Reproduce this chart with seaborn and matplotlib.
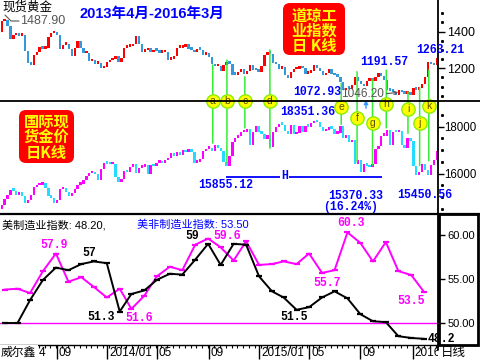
import numpy as np
import pandas as pd
import matplotlib
matplotlib.use("Agg")
import matplotlib.pyplot as plt
import matplotlib.dates as mdates
import matplotlib.transforms as mtransforms
from matplotlib.patches import FancyBboxPatch, Rectangle, ConnectionPatch, FancyArrowPatch
from matplotlib.lines import Line2D
import seaborn as sns

# ---------------- data ----------------
week_first = "2013-04-17"  # mid-week of the first weekly candle

gold_close = [
    # 2013
    1405, 1462,
    1470, 1435, 1365, 1386, 1393,
    1383, 1387, 1297, 1234,
    1223, 1278, 1294, 1322,
    1310, 1313, 1375, 1395, 1396,
    1387, 1308, 1333, 1337,
    1310, 1272, 1315, 1352,
    1315, 1287, 1287, 1244, 1251,
    1230, 1235, 1204, 1213,
    # 2014
    1237, 1248, 1254, 1270, 1240,
    1263, 1318, 1323, 1326,
    1339, 1381, 1335, 1294,
    1303, 1318, 1293, 1302,
    1301, 1289, 1293, 1293, 1250,
    1253, 1274, 1316, 1316,
    1320, 1337, 1310, 1306,
    1293, 1310, 1305, 1280, 1287,
    1268, 1230, 1216, 1218,
    1192, 1222, 1238, 1231, 1171,
    1169, 1185, 1201, 1175,
    1191, 1222, 1196, 1195,
    # 2015
    1186, 1216, 1277, 1293, 1283,
    1234, 1228, 1203, 1213,
    1167, 1152, 1184, 1199,
    1202, 1207, 1204, 1175,
    1179, 1189, 1225, 1205, 1190,
    1168, 1179, 1201, 1173,
    1168, 1159, 1131, 1085, 1095,
    1094, 1113, 1160, 1134,
    1121, 1107, 1137, 1145,
    1137, 1156, 1177, 1162, 1142,
    1088, 1081, 1076, 1057,
    1085, 1075, 1065, 1076,
    # 2016
    1061, 1098, 1089, 1097, 1117,
    1158, 1239, 1227, 1222,
    1260,
]

dow_close = [
    # 2013
    14547, 14712,
    14973, 15118, 15354, 15303, 15115,
    15248, 15070, 14799, 14909,
    15135, 15464, 15543, 15558,
    15658, 15425, 15081, 15010, 14810,
    14922, 15376, 15451, 15258,
    15072, 15237, 15399, 15570,
    15615, 15761, 15961, 16064, 16086,
    16020, 15755, 16221, 16479,
    # 2014
    16470, 16437, 16458, 15879, 15699,
    15794, 16154, 16103, 16322,
    16453, 16065, 16302, 16323,
    16412, 16027, 16409, 16361,
    16513, 16583, 16491, 16606, 16717,
    16924, 16776, 16947, 16851,
    17068, 16944, 17100, 16961,
    16493, 16554, 16663, 17001, 17098,
    17138, 16988, 17280, 17113,
    17010, 16544, 16380, 16805, 17391,
    17574, 17634, 17810, 17828,
    17959, 17281, 17805, 18053,
    # 2015
    17833, 17737, 17512, 17673, 17165,
    17825, 18019, 18140, 18133,
    17857, 17749, 18128, 17713,
    17763, 18058, 17827, 18080,
    18024, 18191, 18273, 18232, 18011,
    17849, 17899, 18016, 17947,
    17731, 17760, 18086, 17569, 17690,
    17373, 17477, 16460, 16643,
    16102, 16433, 16385, 16315,
    16472, 17084, 17216, 17646, 17664,
    17910, 17245, 17824, 17798,
    17848, 17265, 17128, 17553,
    # 2016
    17425, 16347, 15988, 16094, 16466,
    16205, 15974, 16392, 16640,
    17007,
]

pmi_months = [
    "2013-05", "2013-06", "2013-07", "2013-08", "2013-09", "2013-10", "2013-11", "2013-12",
    "2014-01", "2014-02", "2014-03", "2014-04", "2014-05", "2014-06", "2014-07", "2014-08",
    "2014-09", "2014-10", "2014-11", "2014-12", "2015-01", "2015-02", "2015-03", "2015-04",
    "2015-05", "2015-06", "2015-07", "2015-08", "2015-09", "2015-10", "2015-11", "2015-12",
    "2016-01", "2016-02",
]
ism_mfg = [50.0, 50.0, 52.6, 54.9, 56.3, 56.0, 56.7, 57.0, 56.8, 51.3, 53.3, 53.7,
           54.9, 55.6, 55.5, 57.2, 59.0, 56.6, 59.0, 58.9, 55.3, 53.6, 52.9, 51.5,
           51.8, 52.9, 53.6, 52.8, 51.0, 50.2, 50.1, 48.5, 48.3, 48.2]
ism_nonmfg = [53.8, 53.9, 53.4, 55.9, 57.9, 54.7, 55.2, 54.1, 52.9, 53.9, 51.6, 53.1,
              55.3, 56.4, 56.0, 58.9, 59.6, 58.6, 57.1, 59.3, 56.6, 56.7, 57.0, 56.7,
              57.9, 55.7, 56.0, 60.3, 59.1, 57.0, 59.2, 55.9, 55.45, 53.5]

tick_dates = ["2013-09-03", "2014-01-02", "2014-05-01", "2014-09-02",
              "2015-01-02", "2015-05-01", "2015-09-01", "2016-01-04"]
tick_labels = ["09", "2014/01", "05", "09", "2015/01", "05", "09", "2016"]

gold_ticks = [1200, 1400]
dow_ticks = [16000, 18000]
pmi_ticks = [50, 55, 60]

event_letters = list("abcdefghijk")
event_dates = ["2014-09-12", "2014-10-16", "2014-11-28", "2015-01-27", "2015-07-17",
               "2015-08-24", "2015-09-30", "2015-11-02", "2015-12-24", "2016-01-21",
               "2016-02-12"]
event_gold = [1218, 1245, 1154, 1300, 1118, 1181, 1136, 1190, 1072, 1095, 1190]
event_dow = [17306, 16455, 17950, 17080, 18100, 16500, 16370, 17950, 17720, 16350, 16550]

support_level = 15855.12
support_span = ["2014-10-14", "2015-10-22"]

# ---------------- style ----------------
sns.set_theme(style="white")
plt.rcParams["font.family"] = ["Liberation Sans", "Noto Sans CJK SC", "DejaVu Sans"]
plt.rcParams["axes.unicode_minus"] = False
MONO = ["Liberation Mono", "DejaVu Sans Mono"]
BLUE = "#0000FF"
MAG = "#FF00FF"

W, H = 480, 360
fig = plt.figure(figsize=(4.8, 3.6), dpi=100)
fig.patch.set_facecolor("white")


def fx(x):
    return x / W


def fy(y):
    return 1 - y / H


ax_g = fig.add_axes([0, fy(214), fx(438), 214 / H])
ax_d = ax_g.twinx()
ax_p = fig.add_axes([0, fy(345), fx(438), (345 - 214) / H], sharex=ax_g)
for ax in (ax_g, ax_d, ax_p):
    ax.set_facecolor("none")
    ax.grid(False)
    for s in ax.spines.values():
        s.set_visible(False)

xmin, xmax = pd.Timestamp("2013-04-20"), pd.Timestamp("2016-03-05")

# ---------------- candles ----------------
wdates = pd.date_range(week_first, periods=len(gold_close), freq="7D")
g = np.array(gold_close, float)
gp = np.r_[g[0], g[:-1]]
ax_g.bar(wdates, np.maximum(np.abs(g - gp), 14), bottom=np.minimum(g, gp) - 5, width=5.6,
         color=np.where(g >= gp, "#FF0000", "#3399DD"), linewidth=0, zorder=2)

d = np.array(dow_close, float)
dp = np.r_[d[0], d[:-1]]
ax_d.bar(wdates[:len(d)], np.maximum(np.abs(d - dp), 110), bottom=np.minimum(d, dp) - 40,
         width=5.6, color=np.where(d >= dp, MAG, "#22DDFF"), linewidth=0, zorder=2)

ax_g.set_ylim(405, 1572.6)
ax_d.set_ylim(14285, 23391)

# support line
ax_d.hlines(support_level, pd.Timestamp(support_span[0]), pd.Timestamp(support_span[1]),
            color=BLUE, lw=1.3, zorder=3)

# event markers
edates = pd.to_datetime(event_dates)
circle_y_px = [101, 101, 101, 101, 107, 118, 123, 104, 109, 123, 106]
circ_tr = mtransforms.blended_transform_factory(ax_d.transData, ax_d.transAxes)
for dt, gv, dv in zip(edates, event_gold, event_dow):
    xn = mdates.date2num(dt)
    con = ConnectionPatch(xyA=(xn, gv), coordsA=ax_g.transData, xyB=(xn, dv),
                          coordsB=ax_d.transData, color="#33EE33", lw=1.1, zorder=5)
    ax_d.add_artist(con)
for L, dt, yp in zip(event_letters, edates, circle_y_px):
    ax_d.plot([dt], [1 - yp / 214], transform=circ_tr, marker="o", ms=9.6, mfc="#FFFF00",
              mec="#88EE00", mew=1.0, zorder=6, clip_on=False, ls="none")
    ax_d.text(dt, 1 - yp / 214, L, transform=circ_tr, ha="center", va="center",
              fontsize=7.5, color="#555500", zorder=7)

# right axis ticks (top)
ax_g.yaxis.tick_right()
ax_g.set_yticks(gold_ticks)
ax_g.set_yticklabels([str(v) for v in gold_ticks])
ax_d.set_yticks(dow_ticks)
ax_d.set_yticklabels([str(v) for v in dow_ticks])
ax_g.tick_params(axis="y", which="major", direction="out", length=5, width=1,
                 colors="black", labelsize=9, pad=1.5, right=True, left=False,
                 labelright=True, labelleft=False)
ax_d.tick_params(axis="y", which="major", direction="out", length=4, width=1,
                 colors="black", labelsize=8.3, pad=0.5, right=True, left=False,
                 labelright=True, labelleft=False)
ax_g.tick_params(axis="x", which="both", bottom=False, labelbottom=False)

dot_tr_g = mtransforms.blended_transform_factory(ax_g.transAxes, ax_g.transData)
gdots = [1050, 1100, 1150, 1250, 1300, 1350, 1450, 1500]
ax_g.plot([1.01] * len(gdots), gdots, transform=dot_tr_g, ls="none", marker="s",
          ms=1.1, color="black", clip_on=False)
dot_tr_d = mtransforms.blended_transform_factory(ax_d.transAxes, ax_d.transData)
ddots = [14500, 15000, 15500, 16500, 17000, 17500, 18500]
ax_d.plot([1.01] * len(ddots), ddots, transform=dot_tr_d, ls="none", marker="s",
          ms=1.1, color="black", clip_on=False)

# ---------------- PMI panel ----------------
pmi_df = pd.DataFrame({"date": pd.to_datetime([m + "-01" for m in pmi_months]),
                       "mfg": ism_mfg, "nonmfg": ism_nonmfg})
ax_p.axhline(50, color=MAG, lw=1.0, zorder=1)
sns.lineplot(data=pmi_df, x="date", y="nonmfg", ax=ax_p, color=MAG, lw=1.4,
             marker="_", markersize=5, markeredgewidth=1.6, markeredgecolor=MAG, zorder=3)
sns.lineplot(data=pmi_df, x="date", y="mfg", ax=ax_p, color="black", lw=1.4,
             marker="_", markersize=5, markeredgewidth=1.6, markeredgecolor="black", zorder=4)
ax_p.set_xlabel("")
ax_p.set_ylabel("")
ax_p.set_ylim(47.5, 62.39)
ax_p.yaxis.tick_right()
ax_p.set_yticks(pmi_ticks)
ax_p.set_yticklabels([f"{v:.2f}" for v in pmi_ticks])
ax_p.tick_params(axis="y", which="major", direction="out", length=5, width=1,
                 colors="black", labelsize=8, pad=2, right=True, left=False,
                 labelright=True, labelleft=False)

ax_p.spines["bottom"].set_visible(True)
ax_p.spines["bottom"].set_color("black")
ax_p.spines["bottom"].set_linewidth(1.0)
ax_p.set_xticks(pd.to_datetime(tick_dates))
ax_p.xaxis.set_minor_locator(mdates.WeekdayLocator(byweekday=mdates.MO, interval=2))
ax_p.tick_params(axis="x", which="major", direction="out", length=10, width=1,
                 color="black", bottom=True, labelbottom=False)
ax_p.tick_params(axis="x", which="minor", direction="out", length=2.5, width=0.8,
                 color="black", bottom=True, labelbottom=False)
ax_g.set_xlim(xmin, xmax)

lab_tr = mtransforms.offset_copy(
    mtransforms.blended_transform_factory(ax_p.transData, fig.transFigure),
    fig=fig, x=2, y=0, units="dots")
clipbox = mtransforms.TransformedBbox(mtransforms.Bbox([[0, 0], [fx(438), 1]]), fig.transFigure)
for dt, lab in zip(pd.to_datetime(tick_dates), tick_labels):
    t = fig.text(mdates.date2num(dt), fy(353), lab, transform=lab_tr, ha="left",
                 va="center", fontsize=8.5, color="black")
    t.set_clip_box(clipbox)
    t.set_clip_on(True)

# ---------------- frame lines ----------------
fig.add_artist(Line2D([fx(438), fx(438)], [fy(0), fy(350)], transform=fig.transFigure,
                      color="black", lw=1.3))
fig.add_artist(Line2D([0, 1], [fy(101), fy(101)], transform=fig.transFigure,
                      color="black", lw=1.3))
fig.add_artist(Line2D([0, 1], [fy(214), fy(214)], transform=fig.transFigure,
                      color="black", lw=1.6))
fig.add_artist(Rectangle((fx(439), fy(345)), fx(478) - fx(439), (345 - 214) / H,
                         transform=fig.transFigure, fill=False, ec="black", lw=2))

# ---------------- red boxes ----------------
def red_box(x0, y0, x1, y1, lines, ys):
    p = FancyBboxPatch((x0 / 100, (H - y1) / 100), (x1 - x0) / 100, (y1 - y0) / 100,
                       boxstyle="round,pad=0,rounding_size=0.07",
                       transform=fig.dpi_scale_trans, fc="#FF0000", ec="none")
    fig.add_artist(p)
    for s, y in zip(lines, ys):
        fig.text(fx((x0 + x1) / 2), fy(y), s, ha="center", va="center", color="#FFFF00",
                 fontsize=11, fontweight="bold", family=["Noto Sans CJK SC", "DejaVu Sans"])


red_box(283, 3, 345, 55, ["道琼工", "业指数", "日 K线"], [15.5, 31, 46.5])
red_box(19, 110, 74, 163, ["国际现", "货金价", "日K线"], [122, 137, 152.5])

# ---------------- texts ----------------
def ftext(x, y, s, **kw):
    return fig.text(fx(x), fy(y), s, va="center", **kw)


ftext(2, 7.5, "现货黄金", fontsize=9, color="black")
ftext(20, 21, "1487.90", fontsize=9, color="#555555")
fig.add_artist(Line2D([fx(5), fx(11), fx(19)], [fy(15), fy(21), fy(21)],
                      transform=fig.transFigure, color="#555555", lw=0.8))
ftext(80, 14, "2013年4月-2016年3月", fontsize=10.5, fontweight="bold", color=BLUE)

bkw = dict(family=MONO, fontweight="bold", fontsize=8.3)
ftext(293, 92, "1072.93", color=BLUE, **bkw)
ftext(341, 94, "1046.20", fontsize=8.5, color="#555555")
fig.add_artist(FancyArrowPatch((fx(384), fy(94)), (fx(401), fy(92)), transform=fig.transFigure,
                               arrowstyle="->", mutation_scale=6, color="#555555", lw=0.8))
ftext(360, 62, "1191.57", color=BLUE, **bkw)
ftext(416, 50, "1263.21", color=BLUE, **bkw)
ftext(280, 112, "18351.36", color=BLUE, **bkw)
ftext(198, 185, "15855.12", color=BLUE, **bkw)
ftext(328, 196.5, "15370.33", color=BLUE, **bkw)
ftext(323, 207.5, "(16.24%)", color=BLUE, **bkw)
ftext(397, 195, "15450.56", color=BLUE, **bkw)
ftext(281, 176, "H", color=BLUE, bbox=dict(fc="white", ec="none", pad=1), **bkw)
fig.add_artist(FancyArrowPatch((fx(366), fy(111)), (fx(366), fy(97)), transform=fig.transFigure,
                               arrowstyle="-|>", mutation_scale=6, color="#3399FF", lw=1))

ftext(2, 225, "美制造业指数: 48.20,", fontsize=8, color="black")
ftext(137, 225, "美非制造业指数: 53.50", fontsize=8, color=BLUE)

ftext(40, 245, "57.9", color=MAG, **bkw)
ftext(82, 252.5, "57", color="black", **bkw)
ftext(87, 317, "51.3", color="black", **bkw)
ftext(125, 318, "51.6", color=MAG, **bkw)
ftext(185, 236, "59", color="black", **bkw)
ftext(213, 236, "59.6", color=MAG, **bkw)
ftext(337, 223, "60.3", color=MAG, **bkw)
ftext(313, 283, "55.7", color=MAG, **bkw)
ftext(280, 317, "51.5", color="black", **bkw)
ftext(397, 301, "53.5", color=MAG, **bkw)
ftext(428, 339, "48.2", color="black", **bkw)

ftext(1, 353, "威尔鑫", fontsize=8.5, color="black",
      bbox=dict(fc="white", ec="none", pad=1.5))
ftext(39, 353, "4", fontsize=8.5, color="black")
ftext(441, 353, "日线", fontsize=9, color="black")

fig.savefig("out.png", dpi=100, facecolor="white")
